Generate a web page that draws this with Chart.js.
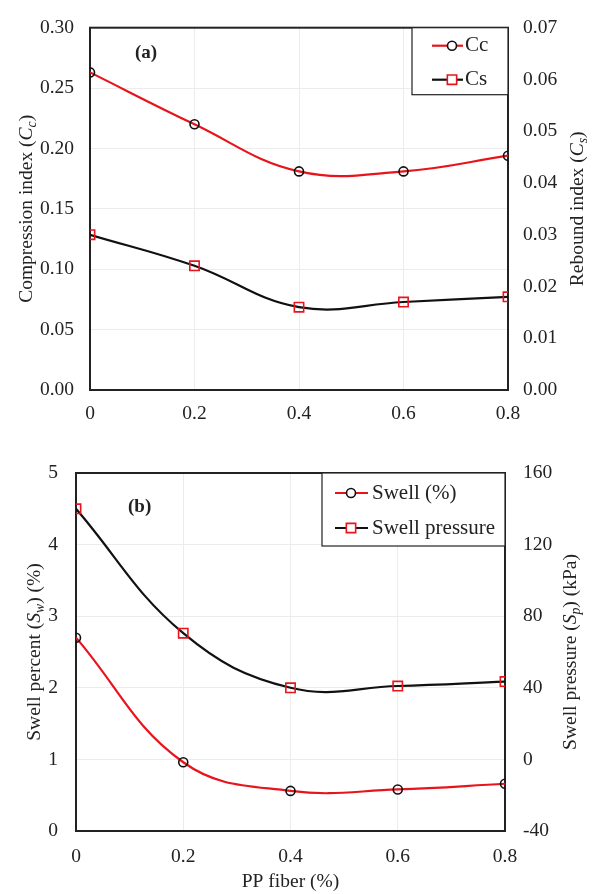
<!DOCTYPE html>
<html>
<head>
<meta charset="utf-8">
<script src="https://cdn.jsdelivr.net/npm/chart.js@4.4.1/dist/chart.umd.min.js"></script>
<style>
body { margin: 0; background: #fff; }
canvas { display: block; }
</style>
</head>
<body>
<canvas id="chartA" width="592" height="430"></canvas>
<canvas id="chartB" width="592" height="464"></canvas>
<script>
const fiberPct = [0, 0.2, 0.4, 0.6, 0.8];
const ccValues = [0.263, 0.220, 0.181, 0.181, 0.194];
const csValues = [0.030, 0.024, 0.016, 0.017, 0.018];
const swellPct = [2.70, 0.96, 0.56, 0.58, 0.66];
const swellPressure = [140, 70.5, 40, 41, 43.5];

const FONT = "'Liberation Serif', 'Times New Roman', serif";
const RED = '#e8141b';

function toPoints(xs, ys) {
    return xs.map(function(x, i) { return { x: x, y: ys[i] }; });
}

// rotated text with italic / subscript parts
function drawRichText(ctx, parts, cx, cy, size) {
    ctx.save();
    ctx.translate(cx, cy);
    ctx.rotate(-Math.PI / 2);
    let total = 0;
    parts.forEach(function(p) {
        let s = p.sub ? size * 0.7 : size;
        ctx.font = (p.italic ? 'italic ' : '') + s + 'px ' + FONT;
        p.w = ctx.measureText(p.t).width;
        total += p.w;
    });
    let x = -total / 2;
    ctx.fillStyle = '#222';
    ctx.textBaseline = 'middle';
    ctx.textAlign = 'left';
    parts.forEach(function(p) {
        let s = p.sub ? size * 0.7 : size;
        ctx.font = (p.italic ? 'italic ' : '') + s + 'px ' + FONT;
        ctx.fillText(p.t, x, p.sub ? size * 0.28 : 0);
        x += p.w;
    });
    ctx.restore();
}

function drawMarker(ctx, ds, x, y) {
    ctx.save();
    ctx.strokeStyle = ds.pointBorderColor;
    ctx.lineWidth = ds.pointBorderWidth;
    ctx.fillStyle = '#fff';
    ctx.beginPath();
    if (ds.pointStyle === 'rect') {
        let h = ds.pointRadius * Math.SQRT1_2;
        ctx.rect(x - h, y - h, 2 * h, 2 * h);
    } else {
        ctx.arc(x, y, ds.pointRadius, 0, Math.PI * 2);
    }
    ctx.fill();
    ctx.stroke();
    ctx.restore();
}

const extrasPlugin = {
    id: 'extras',
    beforeDatasetsDraw(chart, args, opts) {
        let a = chart.chartArea;
        let ctx = chart.ctx;
        ctx.save();
        ctx.strokeStyle = '#222';
        ctx.lineWidth = 2;
        ctx.strokeRect(a.left, a.top, a.right - a.left, a.bottom - a.top);
        ctx.restore();
    },
    afterDraw(chart, args, opts) {
        let a = chart.chartArea;
        let ctx = chart.ctx;
        opts.titles.forEach(function(t) {
            drawRichText(ctx, t.parts, t.x, (a.top + a.bottom) / 2, 19.5);
        });
        ctx.save();
        ctx.font = 'bold 19px ' + FONT;
        ctx.fillStyle = '#222';
        ctx.textBaseline = 'middle';
        ctx.fillText(opts.tag.text, a.left + opts.tag.dx, a.top + opts.tag.dy);
        ctx.restore();

        // legend box
        let lg = opts.legend;
        let bx = a.right - lg.w;
        let by = a.top;
        ctx.save();
        ctx.fillStyle = '#fff';
        ctx.fillRect(bx, by, lg.w, lg.h);
        ctx.strokeStyle = '#222';
        ctx.lineWidth = 1.2;
        ctx.strokeRect(bx, by, lg.w, lg.h);
        chart.data.datasets.forEach(function(ds, i) {
            let y = by + lg.rows[i];
            ctx.strokeStyle = ds.borderColor;
            ctx.lineWidth = 2.2;
            ctx.beginPath();
            ctx.moveTo(bx + lg.lineX0, y);
            ctx.lineTo(bx + lg.lineX1, y);
            ctx.stroke();
            drawMarker(ctx, ds, bx + lg.markX, y);
            ctx.fillStyle = '#222';
            ctx.font = '21px ' + FONT;
            ctx.textBaseline = 'middle';
            ctx.textAlign = 'left';
            ctx.fillText(ds.label, bx + lg.textX, y);
        });
        ctx.restore();
    }
};

function lineSet(label, ys, lineColor, style, markColor, axis) {
    return {
        label: label,
        data: toPoints(fiberPct, ys),
        borderColor: lineColor,
        borderWidth: 2.2,
        tension: 0.4,
        pointStyle: style,
        pointRadius: style === 'rect' ? 6.6 : 4.5,
        pointBorderColor: markColor,
        pointBorderWidth: 1.6,
        pointBackgroundColor: 'rgba(255,255,255,0)',
        yAxisID: axis
    };
}

function tickFont() {
    return { family: FONT, size: 19.5 };
}

function buildOptions(cfg) {
    return {
        responsive: false,
        animation: false,
        layout: { padding: { top: cfg.top, left: 0, right: 0, bottom: 0 } },
        plugins: {
            legend: { display: false },
            tooltip: { enabled: false },
            extras: cfg.extras
        },
        scales: {
            x: {
                type: 'linear',
                min: 0,
                max: 0.8,
                border: { display: false },
                grid: { color: '#ececec', drawTicks: false },
                ticks: {
                    stepSize: 0.2,
                    padding: cfg.xPad,
                    color: '#222',
                    font: tickFont(),
                    callback: function(v) { return v === 0 ? '0' : v.toFixed(1); }
                },
                title: cfg.xTitle,
                afterFit: function(s) { s.height = cfg.xHeight; }
            },
            y: {
                position: 'left',
                min: cfg.left.min,
                max: cfg.left.max,
                border: { display: false },
                grid: { color: '#ececec', drawTicks: false },
                ticks: {
                    stepSize: cfg.left.step,
                    padding: cfg.left.pad,
                    color: '#222',
                    font: tickFont(),
                    callback: function(v) { return v.toFixed(cfg.left.dec); }
                },
                afterFit: function(s) { s.width = cfg.left.width; }
            },
            y1: {
                position: 'right',
                min: cfg.right.min,
                max: cfg.right.max,
                border: { display: false },
                grid: { drawOnChartArea: false, drawTicks: false },
                ticks: {
                    stepSize: cfg.right.step,
                    padding: cfg.right.pad,
                    color: '#222',
                    font: tickFont(),
                    callback: function(v) { return v.toFixed(cfg.right.dec); }
                },
                afterFit: function(s) { s.width = cfg.right.width; }
            }
        }
    };
}

new Chart(document.getElementById('chartA'), {
    type: 'line',
    data: {
        datasets: [
            lineSet('Cc', ccValues, RED, 'circle', '#111', 'y'),
            lineSet('Cs', csValues, '#111', 'rect', RED, 'y1')
        ]
    },
    options: buildOptions({
        top: 18,
        xHeight: 40,
        xPad: 12,
        xTitle: { display: false },
        left: { min: 0, max: 0.3, step: 0.05, dec: 2, width: 90, pad: 16 },
        right: { min: 0, max: 0.07, step: 0.01, dec: 2, width: 84, pad: 15 },
        extras: {
            titles: [
                { x: 27, parts: [{ t: 'Compression index (' }, { t: 'C', italic: true }, { t: 'c', italic: true, sub: true }, { t: ')' }] },
                { x: 578, parts: [{ t: 'Rebound index (' }, { t: 'C', italic: true }, { t: 's', italic: true, sub: true }, { t: ')' }] }
            ],
            tag: { text: '(a)', dx: 45, dy: 25 },
            legend: { w: 96, h: 67, rows: [18, 52], lineX0: 20, lineX1: 51, markX: 40, textX: 53 }
        }
    }),
    plugins: [extrasPlugin]
});

new Chart(document.getElementById('chartB'), {
    type: 'line',
    data: {
        datasets: [
            lineSet('Swell (%)', swellPct, RED, 'circle', '#111', 'y'),
            lineSet('Swell pressure', swellPressure, '#111', 'rect', RED, 'y1')
        ]
    },
    options: buildOptions({
        top: 43,
        xHeight: 63,
        xPad: 14,
        xTitle: { display: true, text: 'PP fiber (%)', color: '#222', font: { family: FONT, size: 19.5 }, padding: { top: 2, bottom: 0 } },
        left: { min: 0, max: 5, step: 1, dec: 0, width: 76, pad: 18 },
        right: { min: -40, max: 160, step: 40, dec: 0, width: 87, pad: 18 },
        extras: {
            titles: [
                { x: 35, parts: [{ t: 'Swell percent (' }, { t: 'S', italic: true }, { t: 'w', italic: true, sub: true }, { t: ') (%)' }] },
                { x: 571, parts: [{ t: 'Swell pressure (' }, { t: 'S', italic: true }, { t: 'p', italic: true, sub: true }, { t: ') (kPa)' }] }
            ],
            tag: { text: '(b)', dx: 52, dy: 34 },
            legend: { w: 183, h: 73, rows: [20, 55], lineX0: 13, lineX1: 46, markX: 29, textX: 50 }
        }
    }),
    plugins: [extrasPlugin]
});
</script>
</body>
</html>
